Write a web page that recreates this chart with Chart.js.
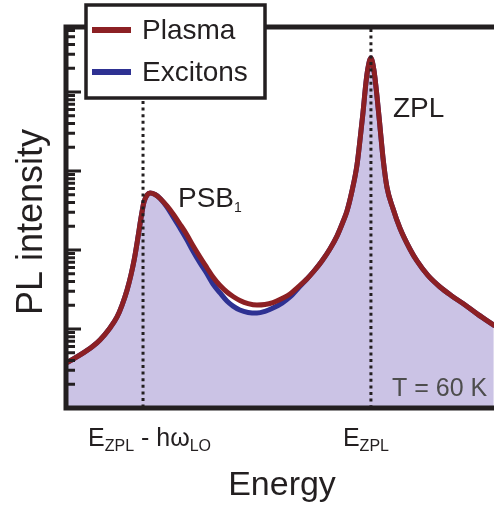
<!DOCTYPE html>
<html>
<head>
<meta charset="utf-8">
<script src="https://cdn.jsdelivr.net/npm/chart.js@4/dist/chart.umd.min.js"></script>
<style>
  body { margin: 0; background: #fff; }
  canvas { display: block; }
</style>
</head>
<body>
<canvas id="plChart" width="494" height="510"></canvas>
<script>
// energy in units of the LO phonon energy, measured from E_ZPL
const energy = [
  -1.329, -1.276, -1.219, -1.189, -1.145, -1.114, -1.092, -1.070, -1.053, -1.039,
  -1.022, -1.009, -0.996, -0.982, -0.969, -0.947, -0.925, -0.895, -0.868, -0.838,
  -0.807, -0.781, -0.750, -0.719, -0.693, -0.662, -0.632, -0.605, -0.575, -0.539,
  -0.500, -0.465, -0.430, -0.390, -0.355, -0.320, -0.281, -0.246, -0.215, -0.180,
  -0.149, -0.123, -0.105, -0.083, -0.061, -0.048, -0.035, -0.022, -0.013, 0.000,
  0.013, 0.026, 0.039, 0.053, 0.070, 0.096, 0.127, 0.171, 0.202, 0.250,
  0.303, 0.355, 0.404, 0.469, 0.539
];
const plasma = [
  3.82, 4.69, 6.09, 7.26, 10.3, 14.2, 20.1, 31.2, 48.3, 74.7,
  146, 254, 405, 497, 527, 504, 449, 361, 286, 213,
  155, 114, 81.5, 59.2, 45.5, 35.5, 29.4, 25.8, 23.0, 21.0,
  20.1, 20.4, 21.6, 24.3, 27.7, 34.0, 42.9, 55.8, 72.6, 103,
  150, 226, 312, 560, 1200, 2469, 5423, 13000, 20130, 26940,
  18990, 9162, 3822, 1461, 627, 340, 190, 103, 72.6, 47.6,
  34.0, 26.2, 21.0, 15.3, 11.2
];
const excitons = [
  3.82, 4.69, 6.09, 7.26, 10.3, 14.2, 20.1, 31.2, 48.3, 74.7,
  146, 254, 405, 497, 527, 504, 449, 350, 262, 190,
  134, 97.1, 68.5, 49.7, 37.1, 28.6, 22.6, 19.5, 17.4, 16.2,
  15.9, 16.7, 18.4, 21.3, 25.4, 32.6, 42.9, 55.8, 72.6, 103,
  150, 226, 312, 560, 1200, 2469, 5423, 13000, 20130, 26940,
  18990, 9162, 3822, 1461, 627, 340, 190, 103, 72.6, 47.6,
  34.0, 26.2, 21.0, 15.3, 11.2
];
const seriesNames = ['Plasma', 'Excitons'];
const tickEnergies = [-1, 0];
const decades = [0, 1, 2, 3, 4];

const INK = '#231F20';
const RED = '#8C2024';
const BLUE = '#2E3192';
const FONT = '"Liberation Sans", Arial, sans-serif';

function pairs(ys) {
  return energy.map((e, i) => ({ x: e, y: ys[i] }));
}

// text with subscripts: parts = [text, size, baselineShift]
function drawRich(ctx, parts, x, y) {
  parts.forEach(p => {
    ctx.font = p[1] + 'px ' + FONT;
    ctx.fillText(p[0], x, y + p[2]);
    x += ctx.measureText(p[0]).width;
  });
}

const decor = {
  id: 'decor',
  afterDatasetsDraw(chart) {
    const ctx = chart.ctx;
    const xs = chart.scales.x, ys = chart.scales.y;
    const a = chart.chartArea;
    ctx.save();

    // dotted markers at E_ZPL - hw_LO and E_ZPL
    ctx.strokeStyle = INK;
    ctx.lineWidth = 3;
    ctx.setLineDash([3, 3.6]);
    const x1 = xs.getPixelForValue(tickEnergies[0]);
    const x2 = xs.getPixelForValue(tickEnergies[1]);
    ctx.beginPath();
    ctx.moveTo(x1, 101); ctx.lineTo(x1, a.bottom - 2);
    ctx.moveTo(x2, a.top + 2); ctx.lineTo(x2, a.bottom - 2);
    ctx.stroke();
    ctx.setLineDash([]);

    // log ticks pointing inward
    ctx.lineWidth = 3;
    ctx.beginPath();
    decades.forEach(k => {
      for (let m = 1; m <= 9; m++) {
        const v = m * Math.pow(10, k);
        if (v <= 1 || v > ys.max) continue;
        const py = ys.getPixelForValue(v);
        ctx.moveTo(a.left, py);
        ctx.lineTo(a.left + (m === 1 ? 15 : 9), py);
      }
    });
    ctx.stroke();

    // frame: left, top and bottom
    ctx.lineWidth = 5;
    ctx.lineJoin = 'miter';
    ctx.beginPath();
    ctx.moveTo(a.right + 3, a.top);
    ctx.lineTo(a.left, a.top);
    ctx.lineTo(a.left, a.bottom);
    ctx.lineTo(a.right + 3, a.bottom);
    ctx.stroke();

    // axis labels
    ctx.fillStyle = INK;
    ctx.textBaseline = 'alphabetic';
    ctx.textAlign = 'left';
    drawRich(ctx, [['E', 25, 0], ['ZPL', 16, 5], [' - h\u03C9', 25, 0], ['LO', 16, 5]], x1 - 55, 446);
    drawRich(ctx, [['E', 25, 0], ['ZPL', 16, 5]], x2 - 28, 446);

    ctx.textAlign = 'center';
    ctx.font = '34px ' + FONT;
    ctx.fillText('Energy', (a.left + a.right) / 2 + 2, 495);

    ctx.save();
    ctx.translate(42, 222);
    ctx.rotate(-Math.PI / 2);
    ctx.font = '36px ' + FONT;
    ctx.fillText('PL intensity', 0, 0);
    ctx.restore();

    // peak annotations
    ctx.textAlign = 'left';
    drawRich(ctx, [['PSB', 28, 0], ['1', 14, 5]], 178, 207);
    ctx.font = '28px ' + FONT;
    ctx.fillText('ZPL', 393, 117);
    ctx.fillStyle = '#4D4D4D';
    ctx.font = '25px ' + FONT;
    ctx.fillText('T = 60 K', 392, 396);

    // legend box
    ctx.fillStyle = '#fff';
    ctx.fillRect(86, 5, 179, 93);
    ctx.strokeStyle = INK;
    ctx.lineWidth = 3.5;
    ctx.strokeRect(86, 5, 179, 93);
    [[RED, 30], [BLUE, 72]].forEach((s, i) => {
      ctx.strokeStyle = s[0];
      ctx.lineWidth = 6;
      ctx.beginPath();
      ctx.moveTo(92, s[1]); ctx.lineTo(131, s[1]);
      ctx.stroke();
      ctx.fillStyle = INK;
      ctx.font = '28px ' + FONT;
      ctx.fillText(seriesNames[i], 142, s[1] + 9);
    });

    ctx.restore();
  }
};

new Chart(document.getElementById('plChart'), {
  type: 'line',
  data: {
    datasets: [
      {
        label: seriesNames[0],
        data: pairs(plasma),
        borderColor: RED,
        borderWidth: 5,
        fill: false
      },
      {
        label: seriesNames[1],
        data: pairs(excitons),
        borderColor: BLUE,
        borderWidth: 5,
        backgroundColor: '#CBC3E5',
        fill: 'start'
      }
    ]
  },
  options: {
    responsive: false,
    animation: false,
    layout: { padding: { left: 66, top: 27, right: 0, bottom: 102 } },
    elements: {
      point: { radius: 0 },
      line: { cubicInterpolationMode: 'monotone', borderCapStyle: 'round' }
    },
    plugins: {
      legend: { display: false },
      tooltip: { enabled: false }
    },
    scales: {
      x: { type: 'linear', display: false, min: -1.338, max: 0.54 },
      y: { type: 'logarithmic', display: false, min: 1, max: 66500 }
    }
  },
  plugins: [decor]
});
</script>
</body>
</html>
